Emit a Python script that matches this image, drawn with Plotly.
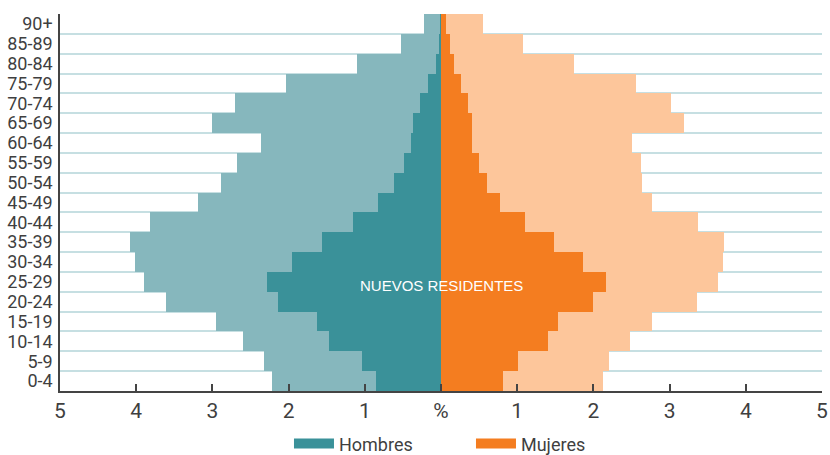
import plotly.graph_objects as go

age_groups = ["0-4", "5-9", "10-14", "15-19", "20-24", "25-29", "30-34", "35-39", "40-44",
              "45-49", "50-54", "55-59", "60-64", "65-69", "70-74", "75-79", "80-84", "85-89", "90+"]

# Total population (%), light bars
men_total = [2.22, 2.32, 2.60, 2.95, 3.61, 3.90, 4.01, 4.08, 3.82,
             3.19, 2.89, 2.68, 2.36, 3.00, 2.70, 2.03, 1.10, 0.52, 0.22]
women_total = [2.13, 2.21, 2.48, 2.77, 3.36, 3.64, 3.70, 3.72, 3.37,
               2.77, 2.64, 2.63, 2.51, 3.19, 3.02, 2.56, 1.74, 1.07, 0.55]

# New residents (%), dark bars
men_new = [0.85, 1.04, 1.47, 1.63, 2.14, 2.29, 1.96, 1.56, 1.16,
           0.83, 0.62, 0.48, 0.39, 0.37, 0.28, 0.17, 0.07, 0.03, 0.01]
women_new = [0.82, 1.01, 1.41, 1.54, 1.99, 2.17, 1.86, 1.48, 1.10,
             0.77, 0.60, 0.50, 0.41, 0.41, 0.35, 0.26, 0.17, 0.12, 0.06]

x_tick_vals = [-5, -4, -3, -2, -1, 0, 1, 2, 3, 4, 5]
x_tick_text = ["5", "4", "3", "2", "1", "%", "1", "2", "3", "4", "5"]

C_MEN_LIGHT = "#86b7bd"
C_MEN_DARK = "#3a9199"
C_WOM_LIGHT = "#fdc69b"
C_WOM_DARK = "#f47d20"
TXT = "#3f3f3f"
FONT = "Roboto, Liberation Sans, sans-serif"

ypos = list(range(len(age_groups)))

fig = go.Figure()
fig.add_trace(go.Bar(y=ypos, x=[-v for v in men_total], orientation="h",
                     marker=dict(color=C_MEN_LIGHT, line=dict(width=0)), showlegend=False))
fig.add_trace(go.Bar(y=ypos, x=women_total, orientation="h",
                     marker=dict(color=C_WOM_LIGHT, line=dict(width=0)), showlegend=False))
fig.add_trace(go.Bar(y=ypos, x=[-v for v in men_new], orientation="h",
                     marker=dict(color=C_MEN_DARK, line=dict(width=0)), showlegend=False))
fig.add_trace(go.Bar(y=ypos, x=women_new, orientation="h",
                     marker=dict(color=C_WOM_DARK, line=dict(width=0)), showlegend=False))

# legend entries (wide swatches)
fig.add_trace(go.Scatter(x=[None], y=[None], mode="lines", name="Hombres",
                         line=dict(color=C_MEN_DARK, width=10)))
fig.add_trace(go.Scatter(x=[None], y=[None], mode="lines", name="Mujeres",
                         line=dict(color=C_WOM_DARK, width=10)))

fig.add_annotation(x=0, y=5, text="NUEVOS RESIDENTES", showarrow=False, yshift=-4,
                   font=dict(color="white", size=15, family="Liberation Sans, sans-serif"))

fig.update_layout(
    width=830, height=455,
    margin=dict(l=60, r=8, t=14, b=64, autoexpand=False),
    barmode="overlay", bargap=0,
    plot_bgcolor="white", paper_bgcolor="white",
    font=dict(family=FONT, color=TXT),
    legend=dict(orientation="h", x=0.3005, xanchor="left", y=-0.14, yanchor="middle",
                font=dict(size=18, color=TXT), itemwidth=40,
                entrywidth=127, entrywidthmode="pixels", itemclick=False),
    xaxis=dict(range=[-5, 5], tickvals=x_tick_vals, ticktext=x_tick_text,
               showgrid=False, zeroline=False, showline=True, linecolor="#444444", linewidth=2,
               ticks="inside", ticklen=7, tickcolor="#444444", tickwidth=1.5,
               ticklabeloverflow="allow",
               tickfont=dict(size=21, color=TXT), fixedrange=True),
    yaxis=dict(range=[-0.5, 18.5], tickvals=ypos, ticktext=age_groups,
               showgrid=False, zeroline=False, showline=True, linecolor="#444444", linewidth=1.5,
               ticks="", tickfont=dict(size=18, color=TXT), ticklabelstandoff=2,
               minor=dict(tick0=-0.5, dtick=1, showgrid=True, gridcolor="#c6dfe2", gridwidth=1.5,
                          ticks=""),
               fixedrange=True),
)

fig.write_html("out.html", post_script="document.body.style.margin='0';",
               config={"displayModeBar": False})
